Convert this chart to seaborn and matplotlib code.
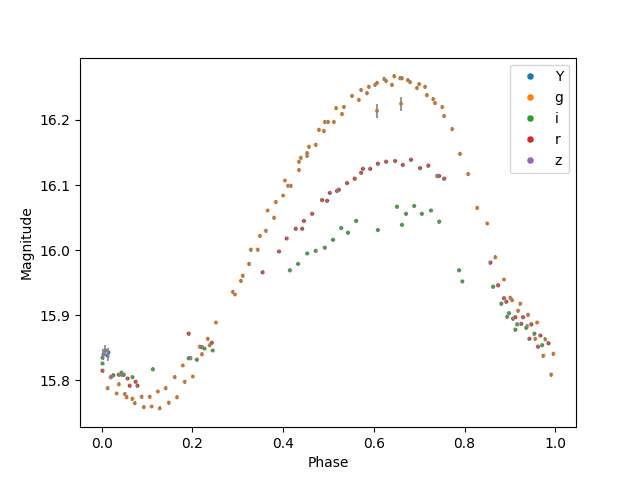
import pandas as pd
import matplotlib
matplotlib.use("Agg")
import matplotlib.pyplot as plt
import seaborn as sns

# typical photometric error (most points)
TYP_ERR = 0.003

# g band
g_phase = [0.013, 0.033, 0.038, 0.051, 0.055, 0.068, 0.073, 0.088, 0.093, 0.106,
           0.110, 0.124, 0.128, 0.141, 0.148, 0.161, 0.166, 0.179, 0.183, 0.196,
           0.201, 0.216, 0.221, 0.234, 0.238, 0.252, 0.289, 0.294, 0.307, 0.311,
           0.325, 0.329, 0.344, 0.349, 0.362, 0.366, 0.380, 0.384, 0.400, 0.404,
           0.411, 0.417, 0.435, 0.435, 0.439, 0.453, 0.453, 0.457, 0.472, 0.479,
           0.490, 0.492, 0.499, 0.512, 0.517, 0.530, 0.534, 0.552, 0.567, 0.572,
           0.585, 0.589, 0.603, 0.607, 0.623, 0.627, 0.640, 0.645, 0.658, 0.662,
           0.675, 0.680, 0.695, 0.700, 0.713, 0.717, 0.731, 0.735, 0.751, 0.755,
           0.773, 0.790, 0.808, 0.828, 0.850, 0.868, 0.887, 0.901, 0.905, 0.918,
           0.923, 0.938, 0.940, 0.956, 0.960, 0.974, 0.978, 0.991, 0.996]
g_mag = [15.788, 15.780, 15.794, 15.779, 15.774, 15.772, 15.765, 15.775, 15.759, 15.775,
         15.760, 15.783, 15.757, 15.788, 15.766, 15.805, 15.774, 15.823, 15.798, 15.834,
         15.806, 15.852, 15.840, 15.864, 15.854, 15.889, 15.936, 15.932, 15.953, 15.961,
         15.979, 16.001, 16.001, 16.022, 16.030, 16.061, 16.050, 16.074, 16.084, 16.107,
         16.099, 16.099, 16.123, 16.136, 16.142, 16.145, 16.149, 16.159, 16.162, 16.185,
         16.183, 16.197, 16.197, 16.197, 16.218, 16.209, 16.220, 16.237, 16.231, 16.246,
         16.241, 16.251, 16.254, 16.257, 16.263, 16.260, 16.254, 16.267, 16.264, 16.264,
         16.261, 16.258, 16.249, 16.255, 16.251, 16.238, 16.232, 16.226, 16.220, 16.206,
         16.186, 16.148, 16.117, 16.065, 16.041, 15.989, 15.955, 15.927, 15.923, 15.907,
         15.918, 15.883, 15.901, 15.864, 15.889, 15.838, 15.863, 15.809, 15.841]
# two noisy g points
g_noisy_phase = [0.607, 0.660]
g_noisy_mag = [16.214, 16.225]
g_noisy_err = [0.011, 0.011]

# r band
r_phase = [0.002, 0.020, 0.022, 0.038, 0.044, 0.057, 0.062, 0.075, 0.079, 0.192,
           0.221, 0.243, 0.355, 0.391, 0.408, 0.428, 0.442, 0.446, 0.464, 0.486,
           0.497, 0.503, 0.519, 0.523, 0.541, 0.558, 0.572, 0.576, 0.592, 0.609,
           0.627, 0.647, 0.664, 0.682, 0.702, 0.720, 0.740, 0.744, 0.755, 0.857,
           0.874, 0.887, 0.892, 0.907, 0.912, 0.925, 0.929, 0.943, 0.947, 0.962,
           0.967, 0.985]
r_mag = [15.815, 15.805, 15.806, 15.809, 15.809, 15.803, 15.792, 15.798, 15.792, 15.872,
         15.851, 15.858, 15.966, 15.998, 16.018, 16.033, 16.033, 16.045, 16.056, 16.077,
         16.076, 16.088, 16.091, 16.093, 16.103, 16.110, 16.119, 16.125, 16.125, 16.133,
         16.136, 16.137, 16.131, 16.139, 16.126, 16.130, 16.114, 16.114, 16.110, 15.981,
         15.946, 15.926, 15.921, 15.895, 15.897, 15.887, 15.897, 15.864, 15.886, 15.852,
         15.869, 15.857]

# i band
i_phase = [0.002, 0.002, 0.026, 0.044, 0.049, 0.068, 0.113, 0.192, 0.210, 0.227,
           0.245, 0.415, 0.433, 0.453, 0.472, 0.492, 0.510, 0.528, 0.543, 0.561,
           0.609, 0.651, 0.662, 0.671, 0.689, 0.706, 0.726, 0.744, 0.788, 0.795,
           0.863, 0.881, 0.894, 0.898, 0.912, 0.916, 0.936, 0.954, 0.971]
i_mag = [15.835, 15.826, 15.808, 15.812, 15.809, 15.805, 15.817, 15.834, 15.832, 15.849,
         15.846, 15.969, 15.979, 15.995, 15.999, 16.004, 16.016, 16.034, 16.027, 16.045,
         16.031, 16.067, 16.039, 16.056, 16.068, 16.056, 16.061, 16.044, 15.969, 15.952,
         15.944, 15.918, 15.898, 15.903, 15.878, 15.886, 15.881, 15.872, 15.854]

# Y and z bands (only near phase 0, larger errors)
Y_phase = [0.013, 0.015]
Y_mag = [15.838, 15.843]
Y_err = [0.008, 0.007]
z_phase = [0.004, 0.008]
z_mag = [15.840, 15.846]
z_err = [0.008, 0.009]

rows = []
for band, ph, mg, er in [
    ("g", g_phase, g_mag, [TYP_ERR] * len(g_phase)),
    ("g", g_noisy_phase, g_noisy_mag, g_noisy_err),
    ("r", r_phase, r_mag, [TYP_ERR] * len(r_phase)),
    ("i", i_phase, i_mag, [TYP_ERR] * len(i_phase)),
    ("Y", Y_phase, Y_mag, Y_err),
    ("z", z_phase, z_mag, z_err),
]:
    for p, m, e in zip(ph, mg, er):
        rows.append({"Phase": p, "Magnitude": m, "err": e, "band": band})
df = pd.DataFrame(rows)

fig, ax = plt.subplots(figsize=(6.4, 4.8), dpi=100)
sns.scatterplot(data=df, x="Phase", y="Magnitude", hue="band",
                hue_order=["Y", "g", "i", "r", "z"], s=10, ax=ax)
ax.errorbar(df["Phase"], df["Magnitude"], yerr=df["err"], fmt="none",
            ecolor="gray", elinewidth=1.5, alpha=0.8)

sns.move_legend(ax, "upper right", title=None)
for h in ax.get_legend().legend_handles:
    h.set_markersize(5)

ax.set_xlabel("Phase")
ax.set_ylabel("Magnitude")
fig.savefig("out.png", dpi=100)
